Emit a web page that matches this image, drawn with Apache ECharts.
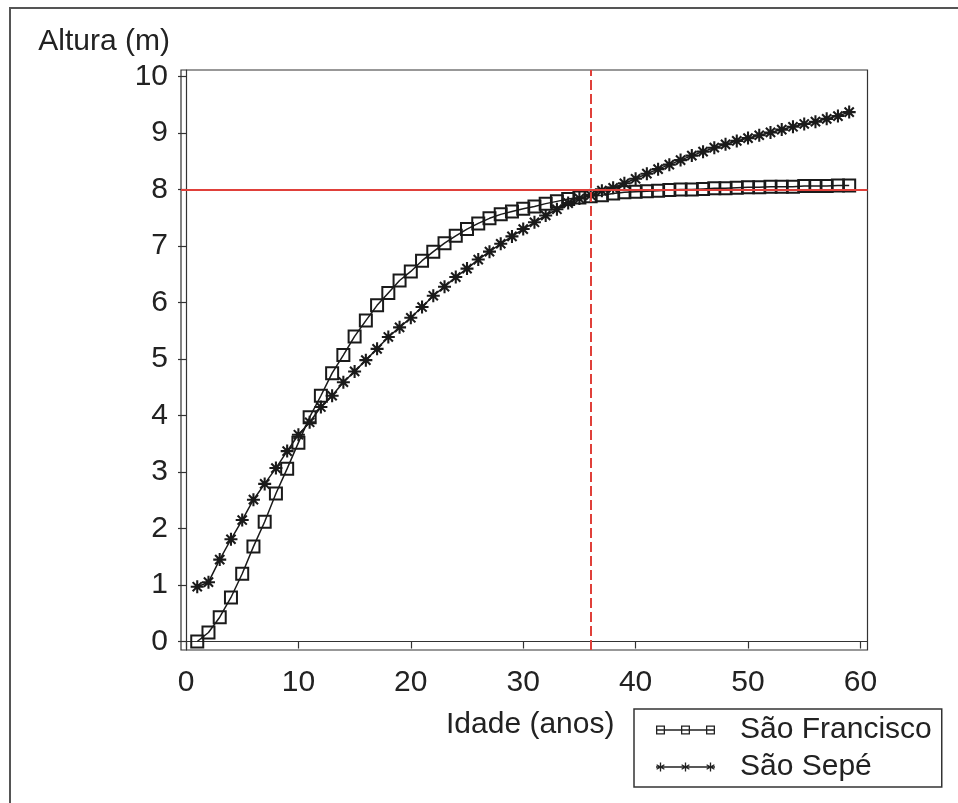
<!DOCTYPE html>
<html>
<head>
<meta charset="utf-8">
<script src="https://cdn.jsdelivr.net/npm/echarts@6/dist/echarts.min.js"></script>
<style>
html,body{margin:0;padding:0;background:#fff;}
#chart{width:958px;height:803px;}
</style>
</head>
<body>
<div id="chart"></div>
<script>
// ---- data ----
const ages = [1,2,3,4,5,6,7,8,9,10,11,12,13,14,15,16,17,18,19,20,21,22,23,24,25,26,27,28,29,30,
  31,32,33,34,35,36,37,38,39,40,41,42,43,44,45,46,47,48,49,50,51,52,53,54,55,56,57,58,59];
const saoFrancisco = [0.00,0.16,0.43,0.78,1.20,1.68,2.12,2.62,3.06,3.52,3.97,4.35,4.75,5.07,5.40,5.68,5.95,6.17,6.39,6.55,
  6.74,6.90,7.05,7.18,7.30,7.40,7.49,7.56,7.61,7.66,7.70,7.75,7.79,7.83,7.86,7.88,7.90,7.93,7.95,7.96,
  7.97,7.98,7.99,8.00,8.00,8.01,8.02,8.02,8.03,8.04,8.04,8.05,8.05,8.05,8.06,8.06,8.06,8.07,8.07];
const saoSepe = [0.97,1.05,1.45,1.81,2.15,2.51,2.79,3.07,3.37,3.66,3.88,4.15,4.35,4.59,4.78,4.98,5.18,5.39,5.56,5.73,
  5.92,6.12,6.28,6.45,6.60,6.76,6.90,7.04,7.17,7.30,7.42,7.54,7.65,7.76,7.84,7.90,7.98,8.03,8.11,8.19,
  8.28,8.36,8.44,8.52,8.60,8.67,8.74,8.80,8.86,8.91,8.96,9.01,9.06,9.11,9.16,9.20,9.25,9.30,9.37];
const seriesNames = ['São Francisco','São Sepé'];
const yTicks = [0,1,2,3,4,5,6,7,8,9,10];
const xTicks = [0,10,20,30,40,50,60];
const refHeight = 8;
const refAge = 36;

// ---- symbol paths (style only) ----
function armPoly(cx, cy, r, w, ang){
  const c = Math.cos(ang), s = Math.sin(ang);
  const h = w/2;
  const pts = [
    [cx - r*c - h*(-s), cy - r*s - h*c],
    [cx + r*c - h*(-s), cy + r*s - h*c],
    [cx + r*c + h*(-s), cy + r*s + h*c],
    [cx - r*c + h*(-s), cy - r*s + h*c]
  ];
  return 'M' + pts.map(p => p[0].toFixed(2)+','+p[1].toFixed(2)).join('L') + 'Z';
}
function asterisk(cx, cy, r, w, n){
  let d = '';
  for (let i=0;i<n;i++) d += armPoly(cx, cy, r, w, Math.PI*i/n + Math.PI/2);
  return d;
}
function hollowSquare(cx, cy, h, t){
  return 'M'+(cx-h)+','+(cy-h)+'L'+(cx+h)+','+(cy-h)+'L'+(cx+h)+','+(cy+h)+'L'+(cx-h)+','+(cy+h)+'Z'+
         'M'+(cx-h+t)+','+(cy-h+t)+'L'+(cx-h+t)+','+(cy+h-t)+'L'+(cx+h-t)+','+(cy+h-t)+'L'+(cx+h-t)+','+(cy-h+t)+'Z';
}
const starSymbol = 'path://' + asterisk(0,0,10,3.2,4);
const iconW = 59, iconH = 9;
const lineRect = 'M0,'+(iconH/2-0.7)+'L'+iconW+','+(iconH/2-0.7)+'L'+iconW+','+(iconH/2+0.7)+'L0,'+(iconH/2+0.7)+'Z';
const sqIcon = 'path://' + lineRect + hollowSquare(4.5,4.5,4.5,1.3) + hollowSquare(29.5,4.5,4.5,1.3) + hollowSquare(54.5,4.5,4.5,1.3);
const stIcon = 'path://' + lineRect + asterisk(4.5,4.5,4.5,1.3,3) + asterisk(29.5,4.5,4.5,1.3,3) + asterisk(54.5,4.5,4.5,1.3,3);

const FONT = 'Liberation Sans, Arial, sans-serif';
const TXT = '#222';
const RED = '#e0403a';

const chart = echarts.init(document.getElementById('chart'), null, {renderer:'canvas'});
chart.setOption({
  animation: false,
  backgroundColor: '#fff',
  textStyle: {fontFamily: FONT, color: TXT},
  graphic: [{
    type: 'rect', silent: true, z: -1,
    shape: {x: 10, y: 8, width: 980, height: 840},
    style: {fill: 'none', stroke: '#555', lineWidth: 2}
  }],
  grid: {
    left: 181, top: 70, right: 90.5, bottom: 153,
    show: true, borderColor: '#333', borderWidth: 1.2, backgroundColor: 'transparent'
  },
  legend: {
    orient: 'vertical', left: 634, top: 709,
    padding: [6, 10, 5, 22], itemGap: 7,
    itemWidth: iconW, itemHeight: iconH,
    borderColor: '#333', borderWidth: 1.5, backgroundColor: '#fff',
    selectedMode: false,
    textStyle: {fontFamily: FONT, fontSize: 30, lineHeight: 30, color: TXT, padding: [0,0,0,20]},
    data: [
      {name: seriesNames[0], icon: sqIcon, itemStyle: {color: '#222', borderWidth: 0}},
      {name: seriesNames[1], icon: stIcon, itemStyle: {color: '#222', borderWidth: 0}}
    ]
  },
  xAxis: {
    type: 'value', min: -0.445, max: 60.63,
    name: 'Idade (anos)', nameLocation: 'middle', nameGap: 75,
    nameTextStyle: {fontFamily: FONT, fontSize: 30, color: TXT, verticalAlign: 'middle', padding: [0,0,0,12]},
    axisLine: {show: true, lineStyle: {color: '#333', width: 1.2}},
    axisTick: {show: true, length: 7, lineStyle: {color: '#333', width: 1.2}, customValues: xTicks},
    axisLabel: {fontFamily: FONT, fontSize: 30, color: TXT, margin: 18, customValues: xTicks},
    splitLine: {show: false}
  },
  yAxis: {
    type: 'value', min: -0.15, max: 10.115,
    name: 'Altura (m)', nameLocation: 'end', nameGap: 28,
    nameTextStyle: {fontFamily: FONT, fontSize: 30, color: TXT, align: 'right', verticalAlign: 'middle', padding: [0,16,0,0]},
    axisLine: {show: true, lineStyle: {color: '#333', width: 1.2}},
    axisTick: {show: true, length: 8, lineStyle: {color: '#333', width: 1.2}, customValues: yTicks},
    axisLabel: {fontFamily: FONT, fontSize: 30, color: TXT, margin: 13, customValues: yTicks},
    splitLine: {show: false}
  },
  series: [
    {
      name: seriesNames[0], type: 'line',
      data: ages.map((a,i) => [a, saoFrancisco[i]]),
      symbol: 'rect', symbolSize: 12, showAllSymbol: true,
      lineStyle: {color: '#1a1a1a', width: 1.5},
      itemStyle: {color: 'rgba(255,255,255,0)', borderColor: '#1a1a1a', borderWidth: 2},
      z: 3,
      markLine: {
        silent: true, symbol: 'none', label: {show: false},
        data: [
          {yAxis: refHeight, lineStyle: {color: RED, width: 2, type: 'solid'}},
          {xAxis: refAge, lineStyle: {color: RED, width: 2, type: [10, 4]}}
        ]
      }
    },
    {
      name: seriesNames[1], type: 'line',
      data: ages.map((a,i) => [a, saoSepe[i]]),
      symbol: starSymbol, symbolSize: 13, showAllSymbol: true,
      lineStyle: {color: '#1a1a1a', width: 1.5},
      itemStyle: {color: '#1a1a1a', borderWidth: 0},
      z: 4
    }
  ]
});
</script>
</body>
</html>
